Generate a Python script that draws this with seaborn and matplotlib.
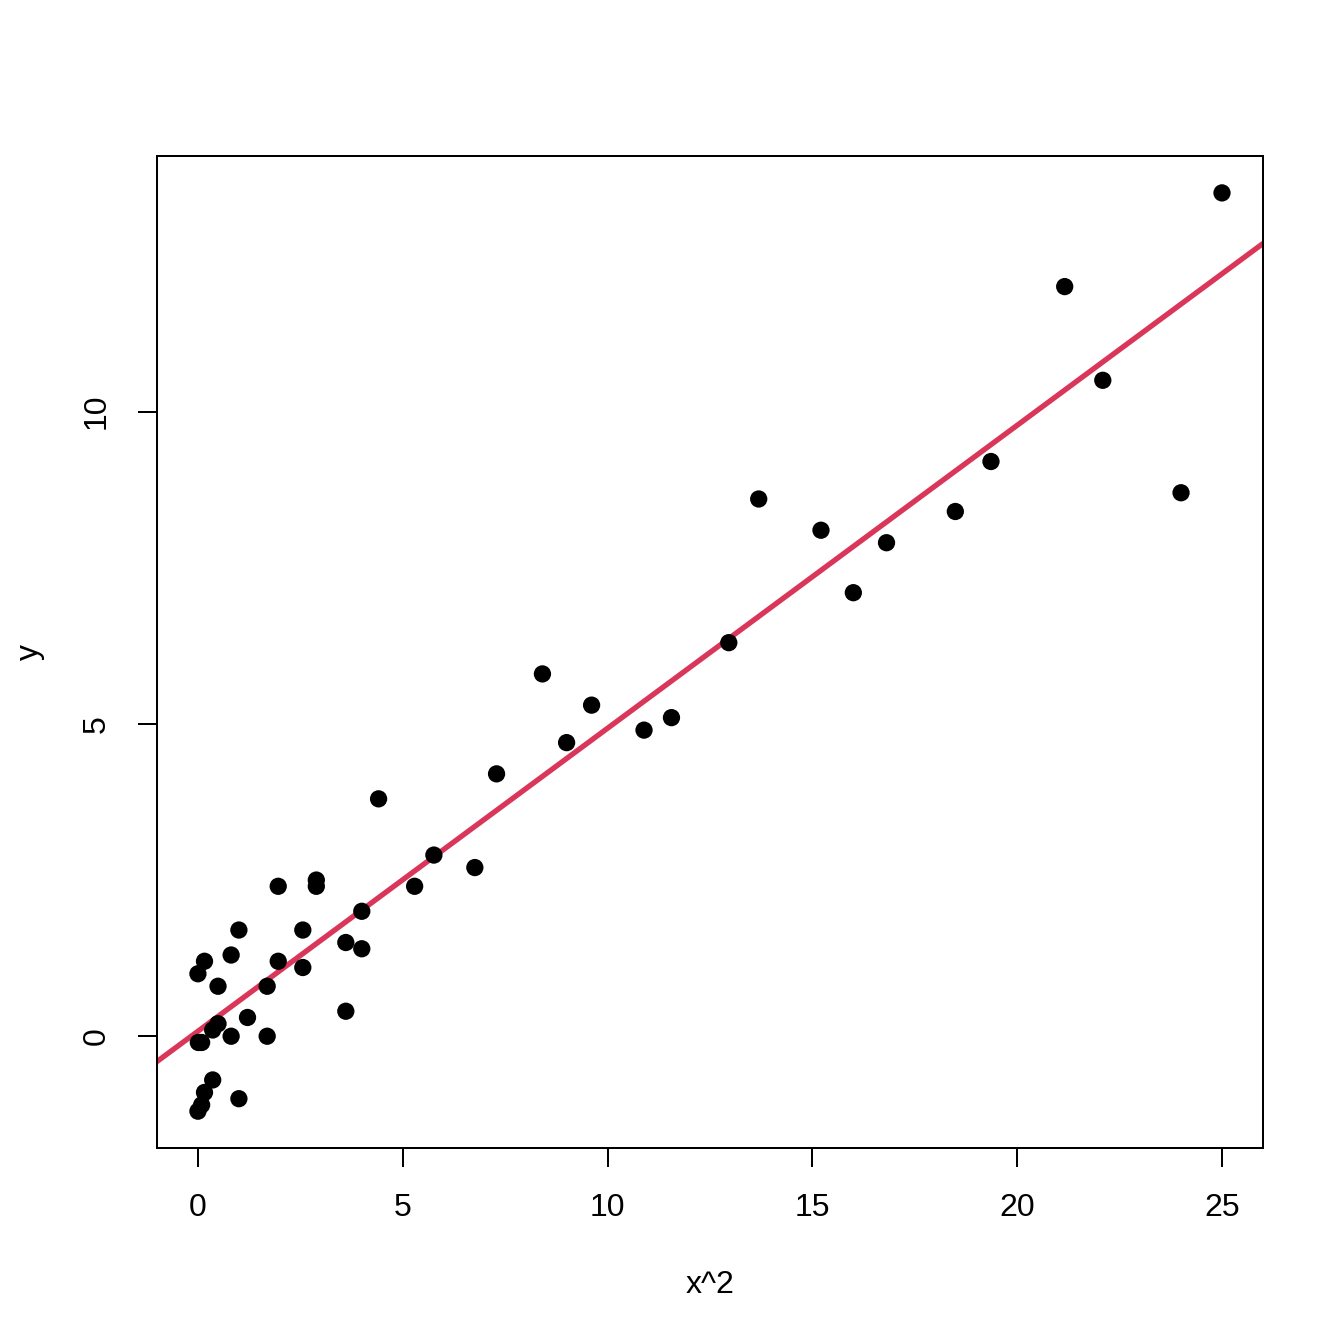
import matplotlib
matplotlib.use("Agg")
import matplotlib.pyplot as plt
import numpy as np
import pandas as pd
import seaborn as sns

# values
x_sq = [25.0, 21.16, 22.09, 24.0, 19.36, 18.49, 16.81, 16.0, 15.21, 13.69,
        12.96, 11.56, 10.89, 9.61, 9.0, 8.41, 7.29, 6.76, 5.76, 5.29,
        4.41, 4.0, 4.0, 3.61, 3.61, 2.89, 2.89, 2.56, 2.56, 1.96,
        1.96, 1.69, 1.69, 1.21, 1.0, 1.0, 0.81, 0.81, 0.49, 0.49,
        0.36, 0.36, 0.16, 0.16, 0.09, 0.0, 0.01, 0.09, 0.0]
y_vals = [13.5, 12.0, 10.5, 8.7, 9.2, 8.4, 7.9, 7.1, 8.1, 8.6,
          6.3, 5.1, 4.9, 5.3, 4.7, 5.8, 4.2, 2.7, 2.9, 2.4,
          3.8, 2.0, 1.4, 1.5, 0.4, 2.5, 2.4, 1.7, 1.1, 2.4,
          1.2, 0.8, 0.0, 0.3, 1.7, -1.0, 1.3, 0.0, 0.8, 0.2,
          0.1, -0.7, 1.2, -0.9, -0.1, 1.0, -0.1, -1.1, -1.2]

# fitted line
fit_intercept = 0.08
fit_slope = 0.485

x_ticks = [0, 5, 10, 15, 20, 25]
y_ticks = [0, 5, 10]

sns.set_theme(style="ticks")
plt.rcParams['font.family'] = ['Liberation Sans', 'DejaVu Sans']

df = pd.DataFrame({"x2": x_sq, "y": y_vals})

fig = plt.figure(figsize=(7, 7), dpi=192)
ax = fig.add_axes([0.1168, 0.1458, 0.8229, 0.7381])

sns.scatterplot(data=df, x="x2", y="y", ax=ax, color="black", s=42,
                edgecolor="none", zorder=3)
ax.axline((0, fit_intercept), slope=fit_slope, color="#D9365A",
          linewidth=2, zorder=2)

ax.set_xlim(-1.0, 26.0)
ax.set_ylim(-1.79, 14.09)
ax.set_xticks(x_ticks)
ax.set_yticks(y_ticks)
ax.tick_params(axis="both", direction="out", length=7, width=0.75,
               color="black", labelsize=12, pad=10, labelcolor="black")
for lab in ax.get_yticklabels():
    lab.set_rotation(90)
    lab.set_va("center")
for sp in ax.spines.values():
    sp.set_visible(True)
    sp.set_color("black")
    sp.set_linewidth(0.75)
ax.grid(False)

ax.set_xlabel("x^2", fontsize=12, color="black")
ax.set_ylabel("y", fontsize=12, color="black")
ax.xaxis.set_label_coords(0.5, -0.138)
ax.xaxis.label.set_va("center")
ax.yaxis.set_label_coords(-0.1148, 0.5)
ax.yaxis.label.set_va("center")
ax.yaxis.label.set_ha("center")

fig.savefig("out.png", dpi=192, facecolor="white")
